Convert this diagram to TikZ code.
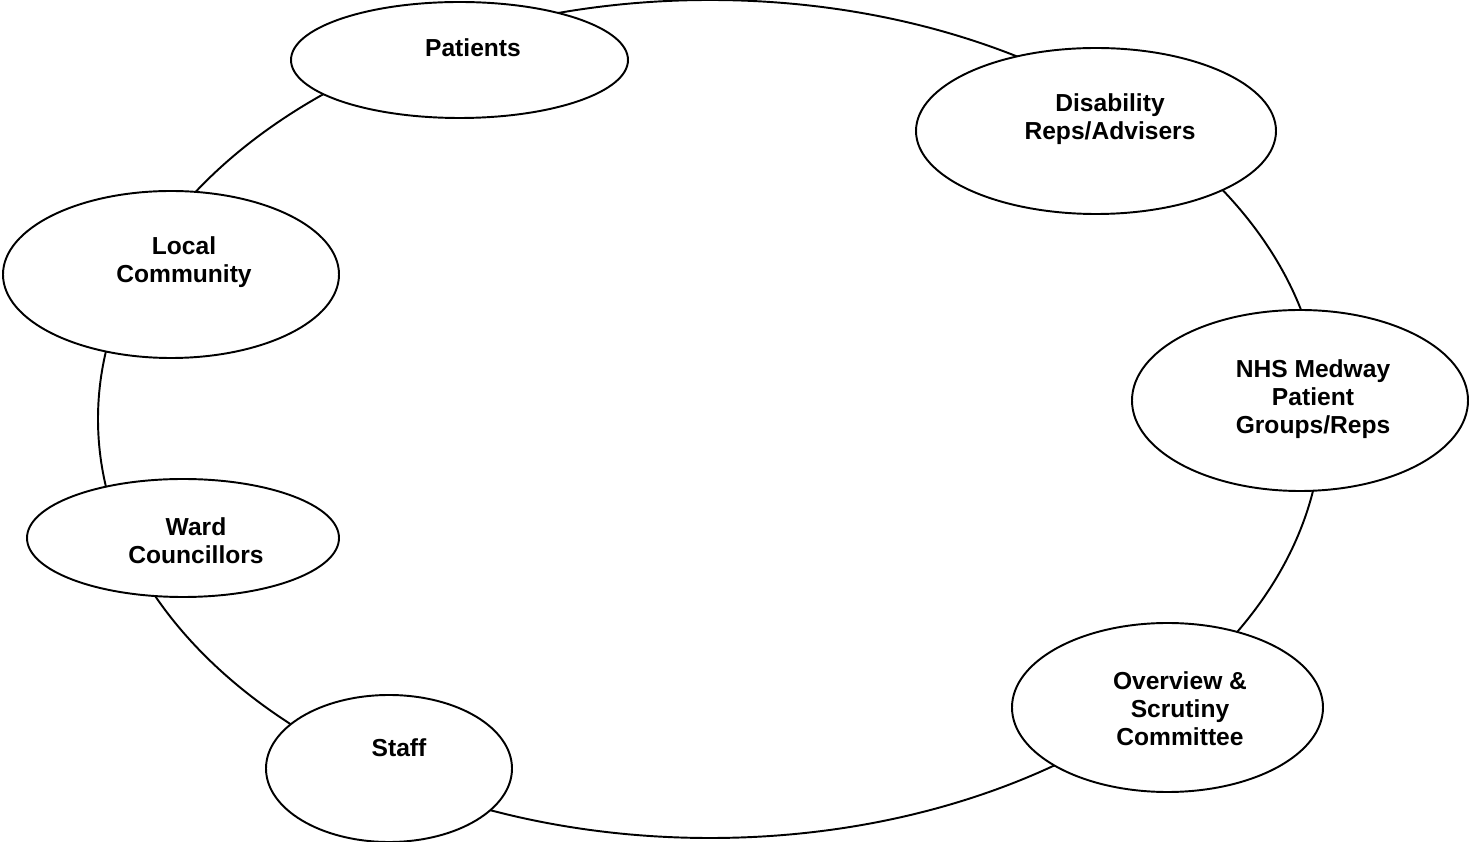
\documentclass[tikz,border=0pt]{standalone}
\usepackage{fontspec}
\setmainfont{Liberation Sans}
\usepackage{tikz}
\usetikzlibrary{calc, positioning, shapes}
\tikzset{
	font = \bfseries\fontsize{14}{16}\selectfont,
	group/.style={
		draw,
		ellipse,
		fill=white,
		line width=1.1pt,
		inner sep=0pt,
		outer sep=0pt
	},
	tag/.style={
		align=center,
		inner sep=0pt
	}
}

\begin{document}
\begin{tikzpicture}[line width=1.1pt]
		\useasboundingbox (0,0) rectangle (29.4,-16.84);

		\coordinate (mid) at (14.2,-8.38);
		\draw (mid) ellipse [x radius=12.24, y radius=8.38];

		\node[group, minimum width=6.74cm, minimum height=2.32cm] at (9.19,-1.20) (pat) {};
		\node[group, minimum width=7.20cm, minimum height=3.32cm] at (21.92,-2.62) (dis) {};
		\node[group, minimum width=6.72cm, minimum height=3.34cm] at (3.42,-5.49) (loc) {};
		\node[group, minimum width=6.72cm, minimum height=3.62cm] at (26.00,-8.01) (nhs) {};
		\node[group, minimum width=6.24cm, minimum height=2.36cm] at (3.66,-10.76) (ward) {};
		\node[group, minimum width=6.22cm, minimum height=3.38cm] at (23.35,-14.15) (ovr) {};
		\node[group, minimum width=4.92cm, minimum height=2.94cm] at (7.78,-15.37) (staff) {};

		\node[tag] at (9.46,-0.96) (pat text) {Patients};
		\node[tag] at (22.20,-2.39) (dis text) {Disability\\Reps/Advisers};
		\node[tag] at (3.68,-5.25) (loc text) {Local\\Community};
		\node[tag] at (26.26,-7.98) (nhs text) {NHS Medway\\Patient\\Groups/Reps};
		\node[tag] at (3.92,-10.82) (ward text) {Ward\\Councillors};
		\node[tag] at (23.60,-14.18) (ovr text) {Overview \&\\Scrutiny\\Committee};
		\node[tag] at (7.98,-14.96) (staff text) {Staff};
	\end{tikzpicture}
\end{document}
